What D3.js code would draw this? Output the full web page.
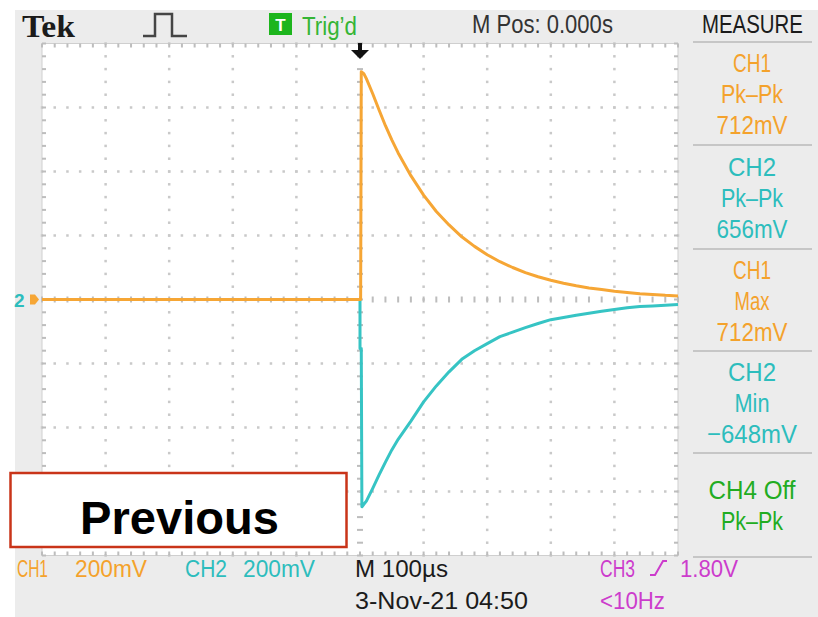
<!DOCTYPE html>
<html><head><meta charset="utf-8">
<script src="https://cdn.jsdelivr.net/npm/d3@7/dist/d3.min.js"></script>
<style>body{margin:0;background:#fff}svg{display:block}text{font-family:"Liberation Sans",Arial,sans-serif}</style>
</head><body><svg id="c" width="818" height="617"></svg>
<script>
const timeDomainUs = [-500, 500];      // 100 µs/div, 10 divisions
const voltDomainMv = [-800, 800];      // 200 mV/div, 8 divisions
const majorTimeUs = [-500,-400,-300,-200,-100,0,100,200,300,400,500];
const majorVoltMv = [-800,-600,-400,-200,0,200,400,600,800];

const ch1TimeUs = [-500, 1, 2, 6, 10, 20, 30, 40, 50, 60, 80, 100, 120, 140, 160, 180, 200, 220, 240, 260, 280, 300, 320, 340, 360, 380, 400, 420, 440, 460, 480, 500];
const ch1Mv     = [0, 0, 712, 706, 690, 643, 592, 543, 499, 458, 387, 326, 275, 233, 196, 166, 140, 118, 100, 84, 71, 60, 51, 43, 36, 31, 26, 22, 18, 16, 13, 11];
const ch2TimeUs = [-500, 0, 0, 2, 3, 6, 10, 20, 30, 40, 50, 60, 80, 100, 120, 140, 160, 180, 200, 220, 240, 260, 280, 300, 320, 340, 360, 380, 400, 420, 440, 460, 480, 500];
const ch2Mv     = [0, 0, -153, -153, -648, -640, -630, -590, -548, -508, -470, -437, -380, -320, -270, -226, -187, -160, -138, -116, -102, -88, -75, -63, -56, -49, -43, -37, -31, -26, -22, -20, -18, -16];

const measureTitles = ["CH1", "CH2", "CH1", "CH2", "CH4 Off"];
const measureKinds  = ["Pk\u2013Pk", "Pk\u2013Pk", "Max", "Min", "Pk\u2013Pk"];
const measureValues = ["712mV", "656mV", "712mV", "\u2212648mV", ""];
const measureChannel = [1, 2, 1, 2, 4];

const topLabels = ["Tek", "Trig\u2019d", "M Pos: 0.000s", "MEASURE"];
const bottomLabels = ["CH1", "200mV", "CH2", "200mV", "M 100\u00b5s", "3-Nov-21 04:50", "CH3", "1.80V", "<10Hz"];
const overlayLabel = "Previous";

// ---- styles ----
const C = {1:"#f4a22c", 2:"#2dbdbd", 3:"#cc3ccc", 4:"#22ac22"};
const traceC = {1:"#f6a635", 2:"#36c4c4"};

const svg = d3.select("#c");
svg.append("rect").attr("x",15).attr("y",10).attr("width",803).attr("height",607).attr("fill","#ececec");

const L=42, R=678, T=43.5, B=555.5;
const x = d3.scaleLinear().domain(timeDomainUs).range([L,R]);
const y = d3.scaleLinear().domain(voltDomainMv).range([B,T]);

svg.append("rect").attr("x",L).attr("y",T).attr("width",R-L).attr("height",B-T).attr("fill","#fff").attr("stroke","#cfcfcf").attr("stroke-width",1);

// grid
const grid = svg.append("g");
const minorT = d3.range(timeDomainUs[0], timeDomainUs[1]+0.1, 20);
const minorV = d3.range(voltDomainMv[0], voltDomainMv[1]+0.1, 40);
const dotC = "#c9c9c9", tickC = "#bdbdbd";
// internal vertical gridlines: dots
majorTimeUs.forEach(t => {
  if (t === timeDomainUs[0] || t === timeDomainUs[1]) return;
  if (t === 0) {
    minorV.forEach(v => grid.append("rect").attr("x",x(t)-3).attr("y",y(v)-1).attr("width",6).attr("height",2).attr("fill",tickC));
  } else {
    minorV.forEach(v => grid.append("rect").attr("x",x(t)-1.25).attr("y",y(v)-1.25).attr("width",2.5).attr("height",2.5).attr("fill",dotC));
  }
});
majorVoltMv.forEach(v => {
  if (v === voltDomainMv[0] || v === voltDomainMv[1]) return;
  if (v === 0) {
    minorT.forEach(t => grid.append("rect").attr("x",x(t)-1).attr("y",y(v)-3).attr("width",2).attr("height",6).attr("fill",tickC));
  } else {
    minorT.forEach(t => grid.append("rect").attr("x",x(t)-1.25).attr("y",y(v)-1.25).attr("width",2.5).attr("height",2.5).attr("fill",dotC));
  }
});
// border ticks
minorT.forEach(t => {
  grid.append("rect").attr("x",x(t)-1).attr("y",T).attr("width",2).attr("height",4).attr("fill",tickC);
  grid.append("rect").attr("x",x(t)-1).attr("y",B-4).attr("width",2).attr("height",4).attr("fill",tickC);
});
minorV.forEach(v => {
  grid.append("rect").attr("x",L).attr("y",y(v)-1).attr("width",4).attr("height",2).attr("fill",tickC);
  grid.append("rect").attr("x",R-4).attr("y",y(v)-1).attr("width",4).attr("height",2).attr("fill",tickC);
});

// traces
const line = d3.line().x(d=>x(d[0])).y(d=>y(d[1]));
svg.append("path").datum(ch2TimeUs.map((t,i)=>[t,ch2Mv[i]])).attr("d",line)
  .attr("fill","none").attr("stroke",traceC[2]).attr("stroke-width",3).attr("stroke-linejoin","round");
svg.append("path").datum(ch1TimeUs.map((t,i)=>[t,ch1Mv[i]])).attr("d",line)
  .attr("fill","none").attr("stroke",traceC[1]).attr("stroke-width",3).attr("stroke-linejoin","round");

// trigger arrow
const tx = x(0);
svg.append("rect").attr("x",tx-2).attr("y",43).attr("width",4).attr("height",9).attr("fill","#111");
svg.append("path").attr("d",`M${tx-9},50 L${tx+9},50 L${tx},59 Z`).attr("fill","#111");

// left channel markers
svg.append("text").attr("x",14).attr("y",y(0)+7).style("font-size","19px").style("font-weight","bold").attr("fill",C[2]).text("2");
svg.append("path").attr("d",`M30,${y(0)-5} L35,${y(0)-5} L39,${y(0)} L35,${y(0)+5} L30,${y(0)+5} Z`).attr("fill",traceC[1]);

// text helper: fit into width
function txt(s, xx, yy, w, size, color, o={}) {
  const t = svg.append("text").attr("x",0).attr("y",0).style("font-size",size+"px").attr("fill",color).text(s);
  if (o.bold) t.style("font-weight","bold");
  if (o.family) t.style("font-family",o.family);
  if (o.anchor) t.attr("text-anchor",o.anchor);
  const len = t.node().getComputedTextLength();
  const sx = w ? w/len : 1;
  t.attr("transform",`translate(${xx},${yy}) scale(${sx},1)`);
  return t;
}

// top bar
txt(topLabels[0], 22, 37, 53, 31, "#1b1b1b", {bold:true, family:'"Liberation Serif","Times New Roman",serif'});
svg.append("path").attr("d","M143,36 H155 V14 H172 V36 H187").attr("fill","none").attr("stroke","#454545").attr("stroke-width",2.5);
svg.append("rect").attr("x",269).attr("y",13).attr("width",23).attr("height",22).attr("fill","#1db51d");
txt("T", 280.5, 31, 0, 17, "#fff", {bold:true, anchor:"middle"});
txt(topLabels[1], 302, 35, 55, 25, "#35b535");
txt(topLabels[2], 472, 33, 141, 26, "#333");
txt(topLabels[3], 702, 33, 101, 26, "#1b1b1b");

// measure panel
const sepY = [42, 145, 249, 351, 453, 557];
sepY.forEach(s => svg.append("rect").attr("x",693).attr("y",s-1).attr("width",119).attr("height",2).attr("fill","#c6c6c6"));
const widths = {"CH1":38,"CH2":48,"Pk\u2013Pk":62,"712mV":71,"656mV":71,"Max":35,"Min":35,"\u2212648mV":90,"CH4 Off":87};
measureTitles.forEach((title,i) => {
  const lines = [title, measureKinds[i], measureValues[i]].filter(d=>d!=="");
  const cy = (sepY[i]+sepY[i+1])/2;
  lines.forEach((s,j) => {
    const c = cy + (j-(lines.length-1)/2)*31 + 9.5;
    txt(s, 752, c, widths[s], 26, C[measureChannel[i]], {anchor:"middle"});
  });
});

// bottom bar
txt(bottomLabels[0], 17, 577, 31, 24, C[1]);
txt(bottomLabels[1], 75, 577, 72, 24, C[1]);
txt(bottomLabels[2], 185, 577, 42, 24, C[2]);
txt(bottomLabels[3], 243, 577, 72, 24, C[2]);
txt(bottomLabels[4], 355, 577, 93, 24, "#1b1b1b");
txt(bottomLabels[5], 355, 609, 173, 24, "#1b1b1b");
txt(bottomLabels[6], 600, 577, 35, 24, C[3]);
svg.append("path").attr("d","M650,575 H655 L663,561 H667").attr("fill","none").attr("stroke",C[3]).attr("stroke-width",2);
txt(bottomLabels[7], 680, 577, 58, 24, C[3]);
txt(bottomLabels[8], 600, 609, 65, 24, C[3]);

// overlay label box
svg.append("rect").attr("x",10.5).attr("y",473).attr("width",336).attr("height",74).attr("fill","#fff").attr("stroke","#c93419").attr("stroke-width",2.5);
txt(overlayLabel, 179.5, 534, 199, 47, "#000", {bold:true, anchor:"middle"});
</script></body></html>
